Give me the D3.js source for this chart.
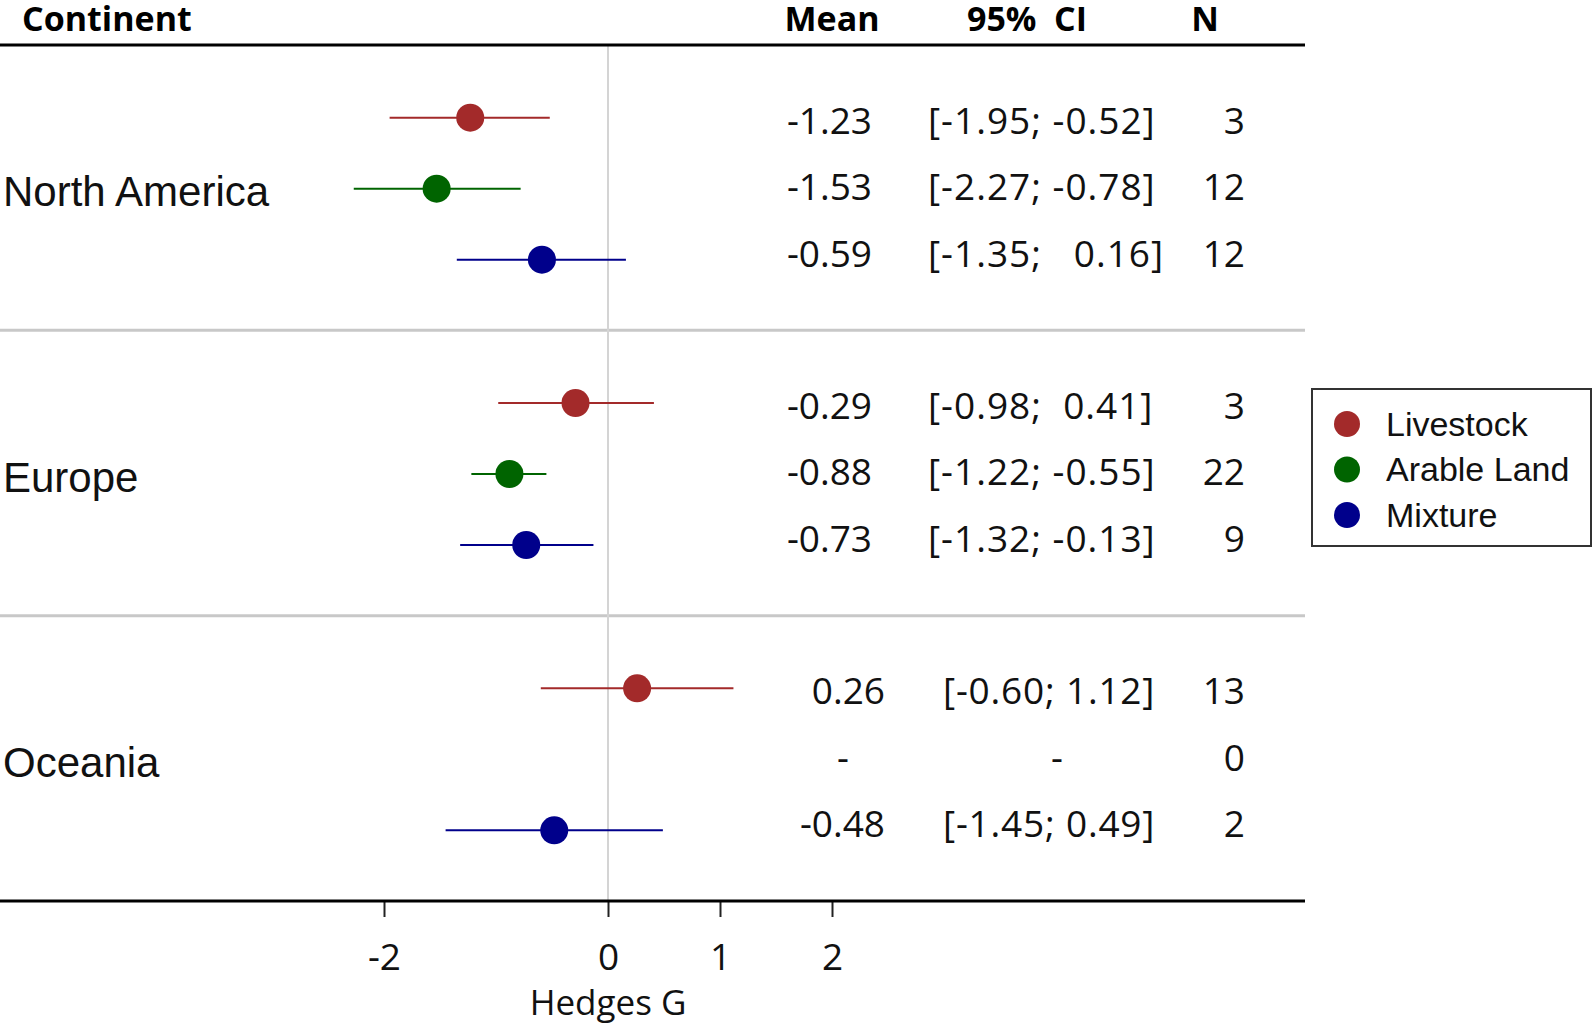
<!DOCTYPE html>
<html>
<head>
<meta charset="utf-8">
<script src="https://cdn.jsdelivr.net/npm/d3@7"></script>
<style>
  html, body { margin: 0; padding: 0; background: #fff; }
  svg { display: block; }
  text { white-space: pre; }
</style>
</head>
<body>
<svg id="chart" width="1594" height="1024"></svg>
<script>
// ---------- data ----------
const continents = ["North America", "Europe", "Oceania"];
const categories = ["Livestock", "Arable Land", "Mixture"];
const means  = [[-1.23, -1.53, -0.59], [-0.29, -0.88, -0.73], [0.26, null, -0.48]];
const ciLow  = [[-1.95, -2.27, -1.35], [-0.98, -1.22, -1.32], [-0.60, null, -1.45]];
const ciHigh = [[-0.52, -0.78,  0.16], [ 0.41, -0.55, -0.13], [ 1.12, null,  0.49]];
const ns     = [[3, 12, 12], [3, 22, 9], [13, 0, 2]];
const meanLabels = [["-1.23", "-1.53", "-0.59"], ["-0.29", "-0.88", "-0.73"], ["0.26", "-", "-0.48"]];
const ciLabels = [["[-1.95; -0.52]", "[-2.27; -0.78]", "[-1.35;   0.16]"],
                  ["[-0.98;  0.41]", "[-1.22; -0.55]", "[-1.32; -0.13]"],
                  ["[-0.60; 1.12]", "-", "[-1.45; 0.49]"]];
const xTicks = [-2, 0, 1, 2];
const headers = ["Continent", "Mean", "95%  CI", "N"];
const xTitle = "Hedges G";

// ---------- styles ----------
const colors = ["#a32a2a", "#006400", "#00008b"];
const numFont = "'Open Sans', sans-serif";
const labelFont = "'Liberation Sans', Arial, sans-serif";

const svg = d3.select("#chart");

const x = d3.scaleLinear().domain([-2, 2]).range([384, 832]);
const group = d3.scaleBand().domain(continents).range([45, 901]).paddingInner(0).paddingOuter(0);
const rowDot = d3.scalePoint().domain(categories).range([-70, 72]);
const rowTxt = d3.scalePoint().domain(categories).range([-67, 66]);
const gc = c => group(c) + group.bandwidth() / 2;

// separators
svg.selectAll("line.sep").data(continents.slice(1)).join("line")
  .attr("x1", 0).attr("x2", 1305)
  .attr("y1", d => group(d)).attr("y2", d => group(d))
  .attr("stroke", "#c8c8c8").attr("stroke-width", 3);

// zero line
svg.append("line")
  .attr("x1", x(0)).attr("x2", x(0)).attr("y1", 45).attr("y2", 901)
  .attr("stroke", "#d4d4d4").attr("stroke-width", 2);

// header line
svg.append("line").attr("x1", 0).attr("x2", 1305).attr("y1", 45).attr("y2", 45)
  .attr("stroke", "#000").attr("stroke-width", 3);

// axis
const axis = d3.axisBottom(x).tickValues(xTicks).tickSize(16).tickPadding(18).tickFormat(d => String(d));
const ag = svg.append("g").attr("transform", "translate(0,901)").call(axis);
ag.select(".domain").remove();
ag.selectAll(".tick line").attr("stroke", "#222").attr("stroke-width", 2);
ag.selectAll(".tick text").attr("font-family", numFont).attr("font-size", 37).attr("fill", "#111")
  .attr("dy", "0.95em");
svg.append("line").attr("x1", 0).attr("x2", 1305).attr("y1", 901).attr("y2", 901)
  .attr("stroke", "#000").attr("stroke-width", 3);
svg.append("text").attr("x", x(0)).attr("y", 1003).attr("dy", "0.35em")
  .attr("text-anchor", "middle").attr("font-family", numFont).attr("font-size", 35)
  .attr("fill", "#111").text(xTitle);

// headers
const hx = [22, 832, 1027, 1205];
const ha = ["start", "middle", "middle", "middle"];
svg.selectAll("text.hdr").data(headers).join("text")
  .attr("class", "hdr")
  .attr("x", (d, i) => hx[i]).attr("y", 31)
  .attr("text-anchor", (d, i) => ha[i])
  .attr("font-family", numFont).attr("font-weight", 700).attr("font-size", 34)
  .attr("fill", "#000").text(d => d);

// continent labels
svg.selectAll("text.cont").data(continents).join("text")
  .attr("x", 3).attr("y", d => gc(d) + 4).attr("dy", "0.35em")
  .attr("font-family", labelFont).attr("font-size", 42).attr("fill", "#111")
  .text(d => d);

// rows
const rows = [];
continents.forEach((c, gi) => categories.forEach((k, ri) => rows.push({
  c, k, gi, ri, m: means[gi][ri], lo: ciLow[gi][ri], hi: ciHigh[gi][ri], n: ns[gi][ri],
  ml: meanLabels[gi][ri], cl: ciLabels[gi][ri]
})));

const marks = rows.filter(r => r.m !== null);
svg.selectAll("line.ci").data(marks).join("line")
  .attr("x1", d => x(d.lo)).attr("x2", d => x(d.hi))
  .attr("y1", d => gc(d.c) + rowDot(d.k)).attr("y2", d => gc(d.c) + rowDot(d.k))
  .attr("stroke", d => colors[d.ri]).attr("stroke-width", 2);
svg.selectAll("circle.pt").data(marks).join("circle")
  .attr("cx", d => x(d.m)).attr("cy", d => gc(d.c) + rowDot(d.k)).attr("r", 14)
  .attr("fill", d => colors[d.ri]);

// text columns
const meanRight = [872, 872, 885];
const ciLeft = [928, 928, 943];
const txtY = d => gc(d.c) + rowTxt(d.k);
const tcommon = sel => sel.attr("font-family", numFont).attr("font-size", 37).attr("fill", "#111").attr("dy", "0.35em");

svg.selectAll("text.mean").data(rows).join("text")
  .attr("x", d => d.m === null ? 843 : meanRight[d.gi]).attr("y", txtY)
  .attr("text-anchor", d => d.m === null ? "middle" : "end")
  .call(tcommon).text(d => d.ml);
svg.selectAll("text.ci").data(rows).join("text")
  .attr("x", d => d.lo === null ? 1057 : ciLeft[d.gi]).attr("y", txtY)
  .attr("text-anchor", d => d.lo === null ? "middle" : "start")
  .attr("letter-spacing", d => d.lo === null ? 0 : (d.gi === 2 ? 0.8 : 1))
  .call(tcommon).text(d => d.cl);
svg.selectAll("text.n").data(rows).join("text")
  .attr("x", 1245).attr("y", txtY).attr("text-anchor", "end")
  .call(tcommon).text(d => d.n);

// legend
const lg = svg.append("g");
lg.append("rect").attr("x", 1312).attr("y", 389).attr("width", 279).attr("height", 157)
  .attr("fill", "#fff").attr("stroke", "#333").attr("stroke-width", 2);
const ly = d3.scalePoint().domain(categories).range([424, 515]);
lg.selectAll("circle").data(categories).join("circle")
  .attr("cx", 1347).attr("cy", d => ly(d)).attr("r", 13).attr("fill", (d, i) => colors[i]);
lg.selectAll("text").data(categories).join("text")
  .attr("x", 1386).attr("y", d => ly(d)).attr("dy", "0.35em")
  .attr("font-family", labelFont).attr("font-size", 34).attr("fill", "#111").text(d => d);
</script>
</body>
</html>
